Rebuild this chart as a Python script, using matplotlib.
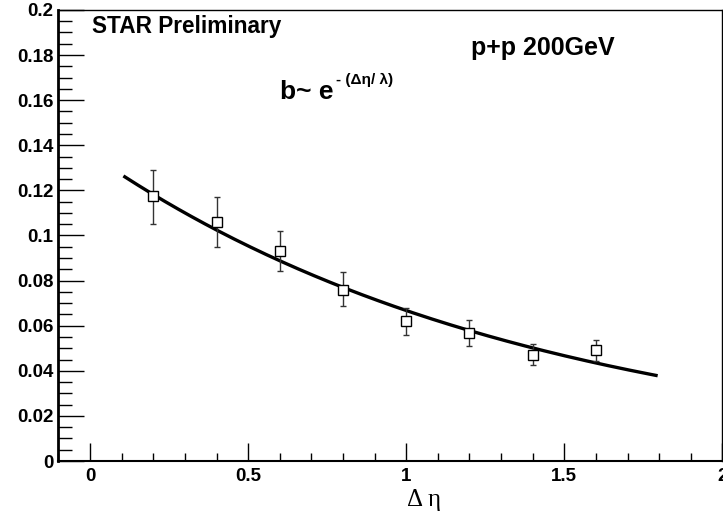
import numpy as np
import matplotlib
matplotlib.use("Agg")
import matplotlib.pyplot as plt
from matplotlib.ticker import MultipleLocator

plt.rcParams['font.family'] = ['Liberation Sans', 'DejaVu Sans']

# data
deta = [0.2, 0.4, 0.6, 0.8, 1.0, 1.2, 1.4, 1.6]
b_val = [0.1175, 0.106, 0.0932, 0.076, 0.0621, 0.0569, 0.047, 0.049]
err_up = [0.0115, 0.011, 0.0088, 0.0077, 0.0059, 0.0056, 0.0047, 0.0048]
err_lo = [0.0125, 0.011, 0.0091, 0.0074, 0.0064, 0.0058, 0.0046, 0.0047]

# exponential fit parameters, b ~ A exp(-deta/lambda)
fit_amp = 0.1363
fit_lambda = 1.40
fit_range = (0.11, 1.79)

W, H = 723, 512
fig = plt.figure(figsize=(W / 100, H / 100), dpi=100)
ax = fig.add_axes([0.0808, 0.0996, 0.9184, 0.881])

ax.errorbar(deta, b_val, yerr=[err_lo, err_up], fmt='s', mfc='white', mec='black',
            ms=7, mew=1.0, ecolor='#333333', elinewidth=1.0, capsize=2.5, capthick=1.0,
            zorder=3)

xf = np.linspace(fit_range[0], fit_range[1], 200)
ax.plot(xf, fit_amp * np.exp(-xf / fit_lambda), color='black', lw=2.4, zorder=2)

ax.set_xlim(-0.1, 2.0)
ax.set_ylim(0, 0.2)
ax.xaxis.set_major_locator(MultipleLocator(0.5))
ax.xaxis.set_minor_locator(MultipleLocator(0.1))
ax.yaxis.set_major_locator(MultipleLocator(0.02))
ax.yaxis.set_minor_locator(MultipleLocator(0.005))
ax.xaxis.set_major_formatter(plt.FuncFormatter(lambda v, p: f"{v:g}"))
ax.yaxis.set_major_formatter(plt.FuncFormatter(lambda v, p: f"{v:g}"))

ax.tick_params(axis='both', which='both', direction='in', top=False, right=False)
ax.tick_params(axis='y', which='major', length=19, width=1, labelsize=13.5, pad=3.5)
ax.tick_params(axis='y', which='minor', length=10, width=1)
ax.tick_params(axis='x', which='major', length=13, width=1, labelsize=13.5, pad=5)
ax.tick_params(axis='x', which='minor', length=6, width=1)
for lab in ax.get_xticklabels() + ax.get_yticklabels():
    lab.set_fontweight('bold')

ax.spines['left'].set_linewidth(2)
ax.spines['bottom'].set_linewidth(1.5)
ax.spines['top'].set_linewidth(1)
ax.spines['right'].set_linewidth(1)


def px(x, y):
    return x / W, 1 - y / H


fig.text(*px(92, 33), "STAR Preliminary", fontsize=16.3, fontweight='bold',
         va='baseline', ha='left')
fig.text(*px(471, 55), "p+p 200GeV", fontsize=18, fontweight='bold',
         va='baseline', ha='left')
fig.text(*px(280, 99), "b~ e", fontsize=19, fontweight='bold',
         va='baseline', ha='left')
fig.text(*px(336, 84), "- (Δη/ λ)", fontsize=11, fontweight='bold',
         va='baseline', ha='left')
fig.text(*px(407, 506), "Δ η", fontsize=18, family='Liberation Serif',
         va='baseline', ha='left')

fig.savefig("out.png", dpi=100)
